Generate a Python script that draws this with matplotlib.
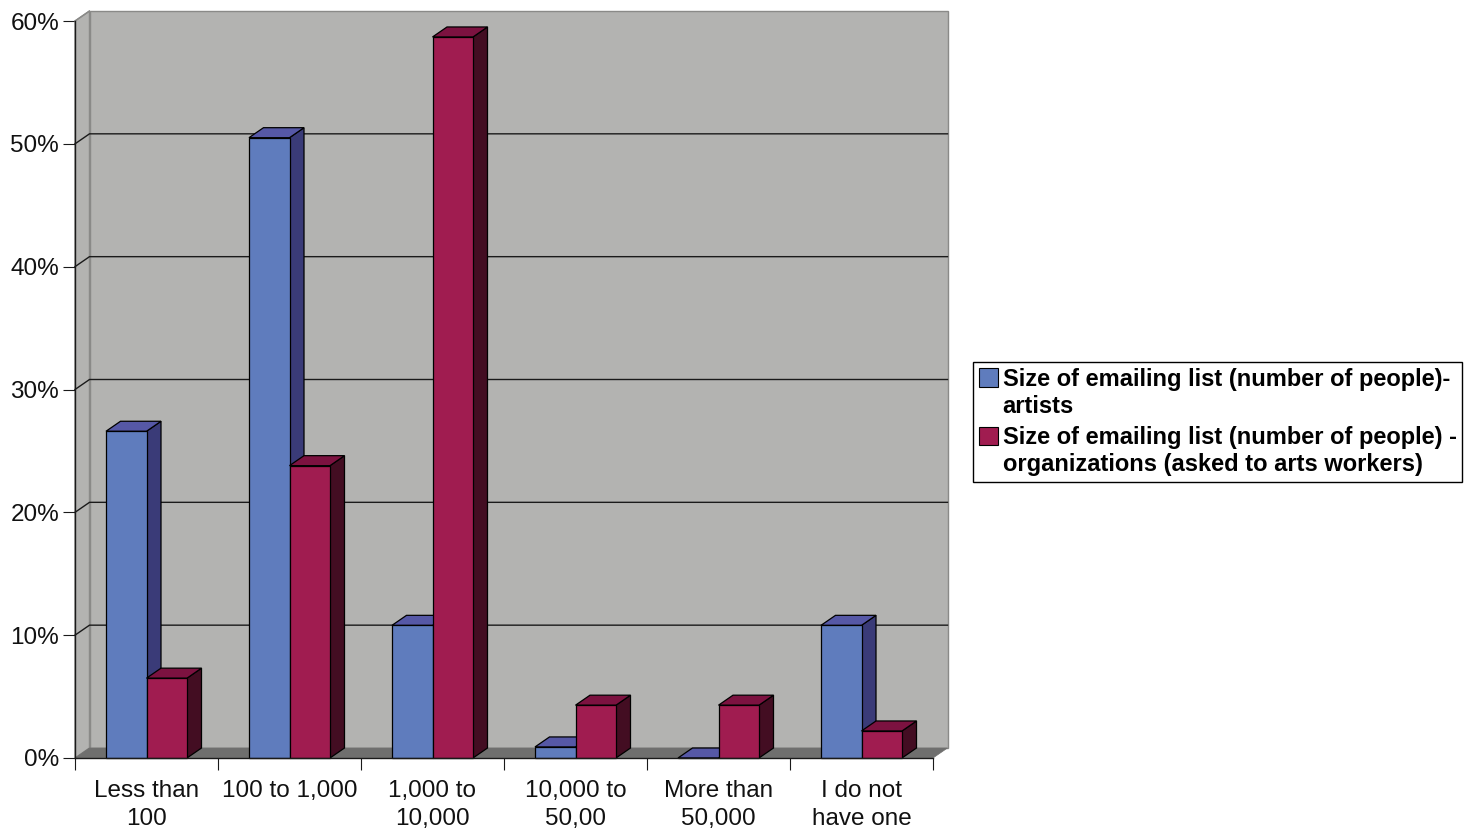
import matplotlib
matplotlib.use("Agg")
import matplotlib.pyplot as plt
from matplotlib.legend_handler import HandlerPatch
from matplotlib.patches import Polygon, Rectangle

plt.rcParams['font.family'] = ['Liberation Sans', 'DejaVu Sans']

# ---- Data ----
categories = ["Less than\n100", "100 to 1,000", "1,000 to\n10,000",
              "10,000 to\n50,00", "More than\n50,000", "I do not\nhave one"]
artists = [26.6, 50.5, 10.8, 0.9, 0.0, 10.8]
organizations = [6.5, 23.8, 58.7, 4.3, 4.3, 2.2]
y_ticks = [0, 10, 20, 30, 40, 50, 60]
label_artists = "Size of emailing list (number of people)-\nartists"
label_orgs = "Size of emailing list (number of people) -\norganizations (asked to arts workers)"

blue = ("#5F7CBD", "#3A3B78", "#5658A6")     # front, side, top
red = ("#A01C50", "#430D22", "#7C1240")

W, H = 1475, 831
fig = plt.figure(figsize=(W / 100, H / 100), dpi=100, facecolor='white')
ax = fig.add_axes([75 / W, 1 - 758 / H, (933 - 75) / W, (758 - 21) / H])
ax.set_xlim(0, 6)
ax.set_ylim(0, 60)
ax.patch.set_visible(False)

# depth of the fake 3D box, in data units
dx = 14.5 / 143
dy = 10 / 12.28
bar_w = 40.5 / 143
bar_start = 31 / 143

# ---- Walls and floor ----
ax.add_patch(Rectangle((dx, dy), 6, 60, fc='#B3B3B1', ec='#8A8A88', lw=1, clip_on=False, zorder=1))
ax.add_patch(Polygon([(0, 0), (dx, dy), (dx, 60 + dy), (0, 60)], fc='#B3B3B1', ec='#8A8A88',
                     lw=1, clip_on=False, zorder=1))
ax.add_patch(Polygon([(0, 0), (6, 0), (6 + dx, dy), (dx, dy)], fc='#6F6F6E', ec='#6F6F6E',
                     lw=0.5, clip_on=False, zorder=1))

for v in y_ticks[1:-1]:
    ax.plot([0, dx, 6 + dx], [v, v + dy, v + dy], color='#1a1a1a', lw=1, clip_on=False, zorder=2)
ax.plot([0, dx], [60, 60 + dy], color='#8A8A88', lw=1, clip_on=False, zorder=2)


def draw_bar(x, val, cols, z):
    ax.add_patch(Polygon([(x + bar_w, 0), (x + bar_w + dx, dy), (x + bar_w + dx, val + dy), (x + bar_w, val)],
                         fc=cols[1], ec='black', lw=0.9, clip_on=False, zorder=z))
    ax.add_patch(Polygon([(x, val), (x + dx, val + dy), (x + bar_w + dx, val + dy), (x + bar_w, val)],
                         fc=cols[2], ec='black', lw=0.9, clip_on=False, zorder=z))
    ax.bar(x, val, width=bar_w, align='edge', color=cols[0], edgecolor='black', linewidth=0.9,
           clip_on=False, zorder=z + 0.5)


for i in range(len(categories)):
    draw_bar(i + bar_start, artists[i], blue, 3 + i)
    draw_bar(i + bar_start + bar_w, organizations[i], red, 3.6 + i)

# ---- Axes ----
for side in ('top', 'right'):
    ax.spines[side].set_visible(False)
for side in ('left', 'bottom'):
    ax.spines[side].set_linewidth(1)
    ax.spines[side].set_color('#1a1a1a')
    ax.spines[side].set_zorder(20)

ax.set_yticks(y_ticks)
ax.set_yticklabels([f"{v}%" for v in y_ticks], fontsize=17.5, color='#111111')
ax.tick_params(axis='y', length=8.6, width=0.8, pad=2.9, color='#1a1a1a')

ax.set_xticks(range(7))
ax.set_xticklabels([])
ax.tick_params(axis='x', which='major', length=8.6, width=0.8, color='#1a1a1a')
ax.set_xticks([i + 0.5 for i in range(6)], minor=True)
ax.set_xticklabels(categories, minor=True, fontsize=17.5, color='#111111', linespacing=1.4)
ax.tick_params(axis='x', which='minor', length=0, pad=15.5)


# ---- Legend ----
def first_line_swatch(legend, orig_handle, xdescent, ydescent, width, height, fontsize):
    # sit the swatch next to the first line of the two line label
    return Rectangle((-xdescent, -ydescent + 11.5), width, height)


handles = [Rectangle((0, 0), 1, 1, fc=blue[0], ec='black', lw=0.8),
           Rectangle((0, 0), 1, 1, fc=red[0], ec='black', lw=0.8)]
fig.legend(handles, [label_artists, label_orgs], loc='upper left',
           bbox_to_anchor=(973 / W, 1 - 362 / H), bbox_transform=fig.transFigure,
           prop={'weight': 'bold', 'size': 17}, fancybox=False, framealpha=1, edgecolor='black',
           borderaxespad=0, borderpad=0.25, labelspacing=0.36, handlelength=0.8, handleheight=0.8,
           handletextpad=0.2, handler_map={Rectangle: HandlerPatch(patch_func=first_line_swatch)})

fig.savefig("out.png", dpi=100)
